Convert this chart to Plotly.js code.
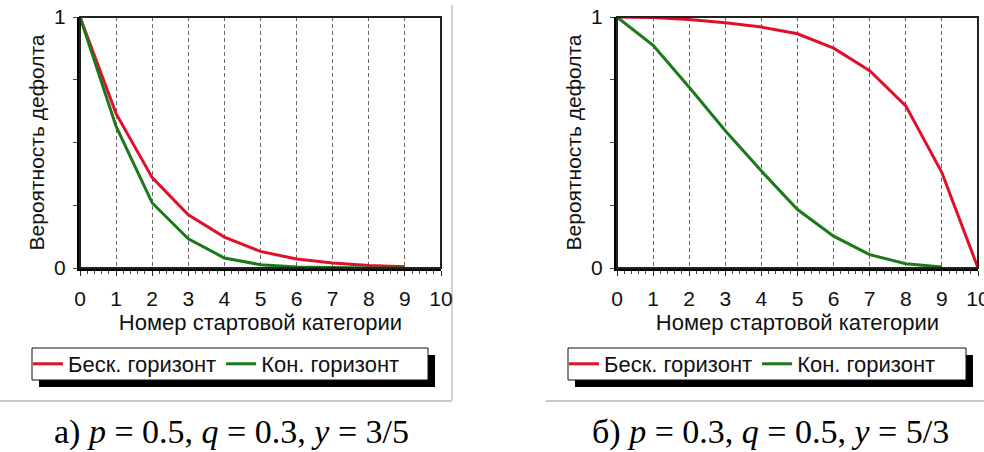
<!DOCTYPE html>
<html>
<head>
<meta charset="utf-8">
<script src="https://cdn.plot.ly/plotly-3.0.1.min.js"></script>
<style>html,body{margin:0;padding:0;background:#fff;}#chart{width:984px;height:452px;}</style>
</head>
<body>
<div id="chart"></div>
<script>
// ---- data ----
const categories = [0, 1, 2, 3, 4, 5, 6, 7, 8, 9, 10];
// panel a) p=0.5, q=0.3, y=3/5
const aInfinite = [1, 0.615, 0.36, 0.212, 0.123, 0.066, 0.036, 0.02, 0.01, 0.005];
const aFinite   = [1, 0.564, 0.259, 0.116, 0.04, 0.013, 0.004, 0.001, 0, 0];
// panel б) p=0.3, q=0.5, y=5/3
const bInfinite = [1, 0.998, 0.99, 0.977, 0.96, 0.933, 0.876, 0.786, 0.646, 0.38, 0];
const bFinite   = [1, 0.887, 0.72, 0.547, 0.386, 0.233, 0.127, 0.053, 0.017, 0.004];
const seriesNames = ['Беск. горизонт', 'Кон. горизонт'];
const yTickVals = [0, 0.25, 0.5, 0.75, 1];
const yTickText = ['0', '', '', '', '1'];
const xTickVals = categories;
const captions = ['а) <i>p</i> = 0.5, <i>q</i> = 0.3, <i>y</i> = 3/5',
                  'б) <i>p</i> = 0.3, <i>q</i> = 0.5, <i>y</i> = 5/3'];
const xTitle = 'Номер стартовой категории';
const yTitle = 'Вероятность дефолта';

const RED = '#e0102a', GREEN = '#1a7a1a';
const W = 984, H = 452;
const px = v => v / W, py = v => 1 - v / H;

function tr(y, name, color, xa, ya, leg) {
  return {
    x: categories.slice(0, y.length), y: y, name: name, type: 'scatter', mode: 'lines',
    line: {color: color, width: 3}, xaxis: xa, yaxis: ya, legend: leg, hoverinfo: 'skip'
  };
}
const data = [
  tr(aInfinite, seriesNames[0], RED, 'x', 'y', 'legend'),
  tr(aFinite, seriesNames[1], GREEN, 'x', 'y', 'legend'),
  tr(bInfinite, seriesNames[0], RED, 'x2', 'y2', 'legend2'),
  tr(bFinite, seriesNames[1], GREEN, 'x2', 'y2', 'legend2')
];

const font = {family: '"Liberation Sans", Arial, sans-serif', color: '#111', size: 21};
function xax(dom, anchor) {
  return {
    domain: dom, anchor: anchor, range: [0, 10], tickvals: xTickVals, ticks: 'outside',
    ticklen: 5, tickwidth: 1, tickcolor: '#222', showline: true, linewidth: 3, linecolor: '#000',
    showgrid: true, gridcolor: '#666', gridwidth: 1, griddash: '4px,3px', zeroline: false,
    ticklabelstandoff: 5, ticklabeloverflow: 'allow', tickfont: {size: 21},
    minor: {dtick: 0.2, ticks: 'outside', ticklen: 3, tickcolor: '#444', showgrid: false},
    title: {text: xTitle, font: {size: 22}, standoff: 5}, fixedrange: true
  };
}
function yax(anchor) {
  return {
    domain: [py(268), py(17)], anchor: anchor, range: [0, 1], tickvals: yTickVals, ticktext: yTickText,
    ticks: 'outside', ticklen: 4, tickcolor: '#444', showline: true, linewidth: 3, linecolor: '#000',
    showgrid: false, zeroline: false, tickfont: {size: 21}, ticklabelstandoff: 3,
    title: {text: yTitle, font: {size: 21}, standoff: 4}, fixedrange: true
  };
}
const panels = [{x0: 80, x1: 441, lx0: 32, lx1: 428, px0: 0, px1: 452, cap: 231},
                {x0: 617, x1: 978, lx0: 568, lx1: 966, px0: 546, px1: 990, cap: 770}];
const shapes = [];
const annotations = [];
panels.forEach((p, i) => {
  shapes.push({type: 'line', xref: 'paper', yref: 'paper', x0: px(p.px0), x1: px(p.px1), y0: py(401), y1: py(401), line: {color: '#c8c8c4', width: 2}, layer: 'below'});
  if (i === 0) shapes.push({type: 'line', xref: 'paper', yref: 'paper', x0: px(452), x1: px(452), y0: py(5), y1: py(401), line: {color: '#d4d4cc', width: 2}, layer: 'below'});
  const xs = i === 0 ? 'x' : 'x2', ys = i === 0 ? 'y' : 'y2';
  shapes.push({type: 'rect', xref: xs + ' domain', yref: ys + ' domain', x0: 0, x1: 1, y0: 0, y1: 1, line: {color: '#222', width: 2}, layer: 'above'});
  shapes.push({type: 'rect', xref: 'paper', yref: 'paper', x0: px(p.lx0 + 7), x1: px(p.lx1 + 7), y0: py(387), y1: py(355), fillcolor: '#000', line: {width: 0}});
  shapes.push({type: 'rect', xref: 'paper', yref: 'paper', x0: px(p.lx0), x1: px(p.lx1), y0: py(380), y1: py(348), fillcolor: '#fff', line: {color: '#111', width: 1}});
  annotations.push({text: captions[i], xref: 'paper', yref: 'paper', x: px(p.cap), y: py(432), xanchor: 'center', yanchor: 'middle', showarrow: false,
    font: {family: '"Liberation Serif", "DejaVu Serif", serif', size: 34, color: '#000'}});
});

const legendBase = {orientation: 'h', bgcolor: 'rgba(0,0,0,0)', borderwidth: 0, font: {size: 22}, itemwidth: 30,
  yanchor: 'middle', xanchor: 'left', y: py(364), itemclick: false, itemdoubleclick: false};
const layout = {
  width: W, height: H, margin: {l: 0, r: 0, t: 0, b: 0}, paper_bgcolor: '#fff', plot_bgcolor: '#fff',
  font: font, showlegend: true,
  xaxis: xax([px(80), px(441)], 'y'), yaxis: yax('x'),
  xaxis2: xax([px(617), px(978)], 'y2'), yaxis2: yax('x2'),
  legend: Object.assign({}, legendBase, {x: px(28)}),
  legend2: Object.assign({}, legendBase, {x: px(564)}),
  shapes: shapes, annotations: annotations
};
Plotly.newPlot('chart', data, layout, {staticPlot: true, displayModeBar: false});
</script>
</body>
</html>
